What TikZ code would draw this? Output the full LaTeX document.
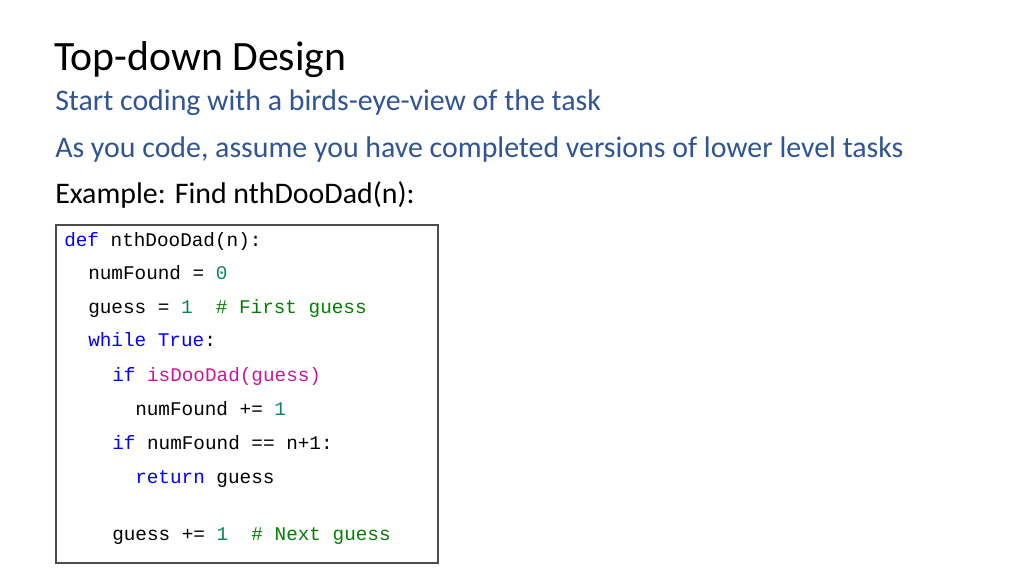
\documentclass[tikz,border=0pt]{standalone}
\usepackage{fontspec}
\setmainfont{Carlito}
\newfontfamily\codefont{Liberation Mono}
\definecolor{ttl}{HTML}{2F5597}
\definecolor{kw}{HTML}{0000FF}
\definecolor{num}{HTML}{098658}
\definecolor{cmt}{HTML}{008000}
\definecolor{fn}{HTML}{C8179B}
\begin{document}
\begin{tikzpicture}[x=0.75pt,y=-0.75pt,
  txt/.style={anchor=base west,inner sep=0pt},
  code/.style={anchor=base west,inner sep=0pt,font=\codefont\fontsize{14.5}{16}\selectfont}]
\useasboundingbox (0,0) rectangle (1024,576);
\node[txt,font=\fontsize{31.3}{34}\selectfont] (title) at (54,70) {Top-down Design};
\node[txt,font=\fontsize{22.4}{25}\selectfont,text=ttl] (s1) at (55,110) {Start coding with a birds-eye-view of the task};
\node[txt,font=\fontsize{22.4}{25}\selectfont,text=ttl] (s2) at (55,157) {As you code, assume you have completed versions of lower level tasks};
\node[txt,font=\fontsize{22.4}{25}\selectfont] (ex) at (55,203) {Example: Find nthDooDad(n):};
\draw[draw=black!70,line width=0.8pt] (56,225) rectangle (438,563);
\node[code] (c1) at (64,246) {\textcolor{kw}{def} nthDooDad(n):};
\node[code] (c2) at (88,279) {numFound = \textcolor{num}{0}};
\node[code] (c3) at (88,313) {guess = \textcolor{num}{1}\ \ \textcolor{cmt}{\# First guess}};
\node[code] (c4) at (88,346) {\textcolor{kw}{while} \textcolor{kw}{True}:};
\node[code] (c5) at (112,381) {\textcolor{kw}{if} \textcolor{fn}{isDooDad(guess)}};
\node[code] (c6) at (135,415) {numFound += \textcolor{num}{1}};
\node[code] (c7) at (112,449) {\textcolor{kw}{if} numFound == n+1:};
\node[code] (c8) at (135,483) {\textcolor{kw}{return} guess};
\node[code] (c9) at (112,540) {guess += \textcolor{num}{1}\ \ \textcolor{cmt}{\# Next guess}};
\end{tikzpicture}
\end{document}
